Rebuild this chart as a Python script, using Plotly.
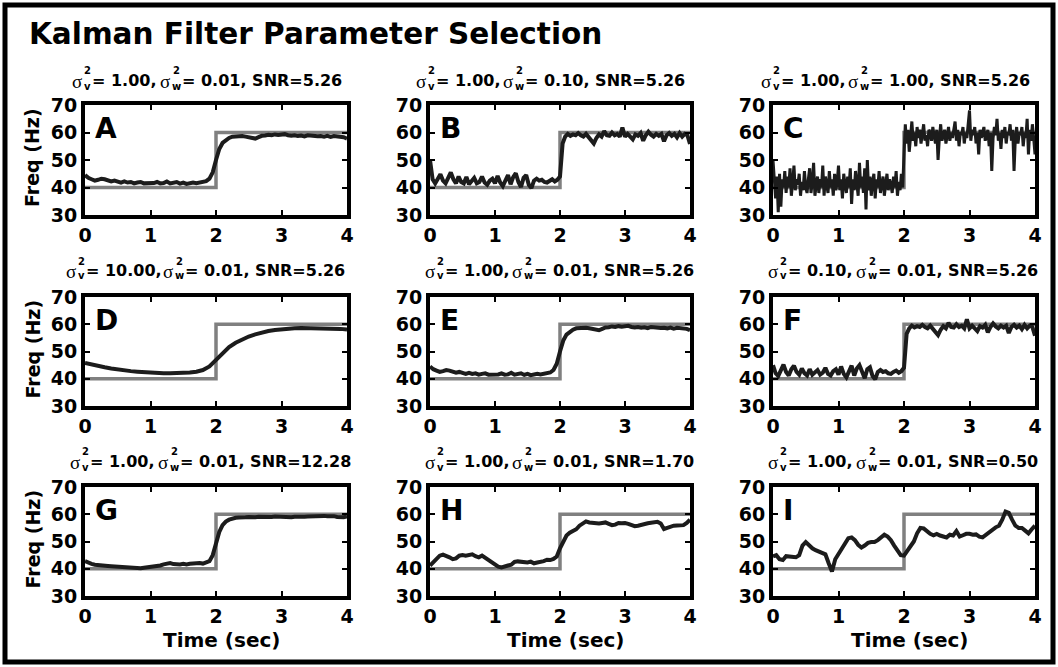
import numpy as np
import plotly.graph_objects as go

W, H = 1058, 667

# ---------------- data ----------------
step_time = [0, 2, 2, 4]
step_freq = [40, 40, 60, 60]

freq_A = [44.5, 43.5, 43.0, 42.5, 42.8, 43.2, 43.0, 42.5, 42.2, 42.5,
          42.0, 41.8, 42.2, 41.8, 42.0, 41.5, 41.8, 42.0, 41.5, 41.5,
          41.8, 41.6, 42.0, 41.5, 41.6, 42.2, 41.5, 41.8, 42.0, 41.4,
          41.8, 41.3, 41.7, 41.8, 41.6, 41.8, 42.0, 42.3, 43.2, 45.5,
          50.0, 54.0, 56.2, 57.3, 58.0, 58.5, 58.6, 58.5, 58.7, 58.5,
          58.3, 57.8, 57.8, 58.3, 58.8, 58.9, 59.2, 59.0, 59.3, 59.1,
          59.2, 59.4, 59.0, 58.8, 59.0, 58.7, 58.9, 58.6, 59.0, 58.8,
          58.9, 58.6, 58.7, 58.5, 58.8, 58.4, 58.7, 58.5, 58.6, 58.3,
          57.8]

freq_B = [50.0, 43.0, 41.5, 43.0, 44.8, 42.5, 41.5, 43.5, 45.5, 43.0,
          41.5, 44.0, 42.0, 41.5, 43.8, 41.2, 42.5, 43.5, 41.5, 42.0,
          44.0, 41.8, 41.0, 42.5, 43.2, 41.5, 44.2, 41.8, 40.5, 43.0,
          44.5, 41.2, 43.8, 45.2, 42.0, 40.2, 43.5, 44.5, 41.0, 39.8,
          42.5, 43.2, 42.5, 42.8, 42.0, 41.8, 42.5, 43.0, 42.2, 42.8,
          44.0, 56.0, 58.5, 59.5, 58.8, 59.3, 59.0, 59.8, 59.0, 58.5,
          59.5, 58.2, 57.5, 56.0, 58.0, 59.3, 58.5, 60.5, 59.0, 58.8,
          60.0, 59.0, 59.5, 58.5, 61.8, 58.5, 59.5, 58.2, 57.5, 59.3,
          58.8, 59.8, 57.0, 59.0, 60.3, 59.2, 58.5, 59.5, 58.8, 59.5,
          56.8, 59.0, 59.8, 58.8, 59.5, 58.2, 59.8, 58.5, 59.5, 59.0,
          55.8]

freq_C = [50, 42, 36, 44, 31, 45, 33, 43, 40, 46,
          38, 44, 40, 47, 37, 42, 48, 39, 43, 41,
          45, 37, 42, 39, 46, 40, 38, 43, 47, 38,
          42, 49, 37, 41, 44, 38, 43, 40, 48, 37,
          44, 41, 38, 46, 40, 43, 37, 45, 39, 42,
          48, 39, 43, 36, 45, 41, 38, 44, 40, 47,
          34, 43, 39, 46, 41, 37, 49, 40, 44, 38,
          47, 32, 50, 39, 44, 37, 42, 45, 36, 43,
          40, 46, 38, 42, 44, 37, 41, 45, 39, 43,
          41, 38, 44, 40, 46, 37, 42, 39, 45, 40,
          52, 63, 56, 61, 53, 59, 64, 57, 60, 55,
          62, 58, 61, 56, 60, 63, 57, 59, 55, 61,
          60, 57, 62, 59, 56, 61, 50, 58, 63, 57,
          59, 61, 56, 60, 62, 57, 60, 58, 61, 64,
          57, 61, 55, 60, 59, 62, 56, 60, 58, 63,
          68, 57, 61, 59, 62, 56, 60, 52, 61, 58,
          60, 62, 57, 59, 61, 55, 60, 46, 58, 62,
          59, 65, 57, 60, 54, 61, 58, 62, 56, 60,
          59, 63, 57, 61, 46, 58, 62, 56, 60, 59,
          62, 55, 60, 58, 65, 52, 61, 57, 63, 58,
          52]

freq_D = [45.8, 45.2, 44.7, 44.2, 43.8, 43.4, 43.1, 42.8, 42.6, 42.4,
          42.2, 42.1, 42.0, 42.0, 42.0, 42.1, 42.3, 42.6, 43.2, 44.5,
          47.0, 49.5, 51.6, 53.2, 54.5, 55.5, 56.3, 57.0, 57.5, 57.9,
          58.2, 58.4, 58.5, 58.6, 58.6, 58.6, 58.6, 58.5, 58.4, 58.3,
          58.1]

freq_E = [44.5, 43.5, 43.0, 42.5, 42.8, 43.2, 43.0, 42.5, 42.2, 42.5,
          42.0, 41.8, 42.2, 41.8, 42.0, 41.5, 41.8, 42.0, 41.5, 41.5,
          41.8, 41.6, 42.0, 41.5, 41.6, 42.2, 41.5, 41.8, 42.0, 41.4,
          41.8, 41.3, 41.7, 41.8, 41.6, 41.8, 42.0, 42.3, 43.2, 45.5,
          50.0, 54.0, 56.2, 57.3, 58.0, 58.5, 58.6, 58.5, 58.7, 58.5,
          58.3, 57.8, 57.8, 58.3, 58.8, 58.9, 59.2, 59.0, 59.3, 59.1,
          59.2, 59.4, 59.0, 58.8, 59.0, 58.7, 58.9, 58.6, 59.0, 58.8,
          58.9, 58.6, 58.7, 58.5, 58.8, 58.4, 58.7, 58.5, 58.6, 58.3,
          57.8]

freq_F = [45.0, 42.0, 41.0, 43.5, 45.2, 42.5, 41.2, 43.5, 44.8, 42.5,
          41.5, 43.8, 42.0, 41.2, 43.5, 41.5, 42.5, 43.2, 41.5, 42.2,
          44.0, 41.8, 41.2, 42.8, 43.5, 41.5, 44.5, 41.8, 40.5, 43.0,
          44.8, 41.2, 43.8, 45.0, 42.0, 40.2, 43.5, 44.2, 41.0, 39.8,
          42.5, 43.2, 42.5, 42.8, 42.0, 41.8, 42.5, 43.0, 42.2, 42.8,
          44.0, 56.5, 58.5, 59.5, 58.8, 59.3, 59.0, 59.8, 59.0, 58.5,
          59.5, 58.2, 57.5, 56.0, 58.0, 59.3, 58.5, 60.5, 59.0, 58.8,
          60.0, 59.0, 59.5, 58.5, 61.8, 58.5, 59.5, 58.2, 57.5, 59.3,
          58.8, 59.8, 57.0, 59.0, 60.3, 59.2, 58.5, 59.5, 58.8, 59.5,
          56.8, 59.0, 59.8, 58.8, 59.5, 58.2, 59.8, 58.5, 59.5, 59.0,
          55.8]

freq_G = [42.8, 42.2, 41.8, 41.5, 41.3, 41.2, 41.0, 41.0, 40.9, 40.8,
          40.9, 40.7, 40.8, 40.6, 40.6, 40.5, 40.4, 40.2, 40.4, 40.5,
          40.6, 40.7, 40.9, 41.2, 41.6, 42.0, 42.1, 41.7, 41.5, 41.6,
          41.8, 41.6, 41.8, 42.0, 41.9, 42.1, 41.9, 42.2, 42.8, 45.0,
          49.5, 53.5, 56.0, 57.3, 58.0, 58.5, 58.7, 58.8, 58.7, 58.9,
          59.0, 58.8, 58.9, 59.1, 59.0, 58.9, 59.1, 59.0, 59.2, 59.1,
          59.0, 59.1, 59.0, 58.9, 59.1, 59.0, 59.2, 59.1, 59.2, 59.3,
          59.2, 59.3, 59.3, 59.4, 59.3, 59.4, 59.3, 59.0, 58.8, 58.9,
          59.2]

freq_H = [41.2, 42.5, 43.8, 44.8, 45.2, 44.8, 44.2, 43.5, 43.8, 44.8,
          45.0, 44.8, 45.2, 45.3, 44.6, 44.2, 44.8, 44.0, 42.8, 42.0,
          41.3, 40.8, 40.5, 41.0, 41.2, 41.5, 42.5, 42.7, 42.5, 42.6,
          42.3, 42.6, 42.0, 42.3, 42.5, 42.8, 43.3, 43.2, 43.6, 44.5,
          47.5, 50.0, 52.2, 53.2, 53.8, 54.5, 55.8, 56.8, 57.4, 57.0,
          56.8, 56.9, 56.6, 56.8, 57.0, 56.5, 56.0, 56.2, 56.8, 56.7,
          56.8, 56.5, 56.2, 55.6, 55.8, 56.2, 56.5, 56.7, 56.9, 57.0,
          57.2, 56.6, 54.6, 55.0, 55.6, 55.8, 55.9, 55.8, 56.0, 56.8,
          58.0]

freq_I = [44.5, 45.0, 43.5, 43.2, 44.6, 44.5, 44.3, 44.2, 45.0, 48.5,
          49.8, 48.5, 47.5, 46.8, 46.2, 45.8, 45.3, 42.0, 39.0, 43.5,
          45.5, 47.0, 49.5, 51.2, 51.5, 50.5, 48.8, 47.8, 48.5, 49.5,
          49.8, 49.8, 50.5, 51.5, 52.5, 51.8, 50.5, 48.5, 46.5, 45.0,
          44.8, 46.5, 48.0, 50.0, 53.0, 55.0, 54.8, 53.8, 52.8, 52.3,
          52.8, 52.2, 51.8, 51.5, 52.5, 52.2, 53.8, 51.8, 52.3, 52.8,
          52.8, 52.5, 52.6, 51.8, 51.5, 52.5, 53.5, 54.5, 55.2, 55.8,
          58.0, 61.0, 60.5, 58.0, 55.8, 55.0, 55.0, 54.0, 53.0, 54.5,
          55.8]

panel_letters = ["A", "B", "C", "D", "E", "F", "G", "H", "I"]
panel_freqs = [freq_A, freq_B, freq_C, freq_D, freq_E, freq_F, freq_G, freq_H, freq_I]
sigma_v2 = ["1.00", "1.00", "1.00", "10.00", "1.00", "0.10", "1.00", "1.00", "1.00"]
sigma_w2 = ["0.01", "0.10", "1.00", "0.01", "0.01", "0.01", "0.01", "0.01", "0.01"]
snr = ["5.26", "5.26", "5.26", "5.26", "5.26", "5.26", "12.28", "1.70", "0.50"]
x_ticks = [0, 1, 2, 3, 4]
y_ticks = [30, 40, 50, 60, 70]

# ---------------- layout helpers (window pixels) ----------------
col_px = [(85, 347), (430, 690), (773, 1035)]
row_px = [(105, 215), (297, 406), (487, 596)]
title_y = [80, 270, 461]
# right edge of each sigma glyph in the panel titles
sig1_px = [83, 427, 772, 77, 436, 779, 81, 436, 779]
sig2_px = [171, 514, 859, 174, 523, 867, 169, 523, 867]

FONT = "DejaVu Sans"
SIGMA_FONT = "Liberation Serif"


def px(x):
    return x / W


def py(y):
    return 1 - y / H


fig = go.Figure()
annotations = []

for i in range(9):
    r, c = divmod(i, 3)
    sfx = "" if i == 0 else str(i + 1)
    xa, ya = "x" + sfx, "y" + sfx
    vals = panel_freqs[i]
    t = np.linspace(0, 4, len(vals))
    fig.add_trace(go.Scatter(x=step_time, y=step_freq, mode="lines",
                             line=dict(color="#808080", width=3.5),
                             xaxis=xa, yaxis=ya, showlegend=False, hoverinfo="skip"))
    fig.add_trace(go.Scatter(x=t, y=vals, mode="lines",
                             line=dict(color="#1c1c1c", width=4 if i != 2 else 3),
                             xaxis=xa, yaxis=ya, showlegend=False))
    x0, x1 = col_px[c]
    y0, y1 = row_px[r]
    common = dict(showline=True, linewidth=4, linecolor="black", mirror="ticks",
                  ticks="inside", ticklen=5, tickwidth=2, tickcolor="black",
                  showgrid=False, zeroline=False, fixedrange=True, automargin=False,
                  tickfont=dict(family=FONT, size=19, color="black", weight="bold"))
    fig.layout["xaxis" + sfx] = dict(domain=[px(x0), px(x1)], range=[0, 4],
                                     tickvals=x_ticks, anchor=ya, **common)
    fig.layout["yaxis" + sfx] = dict(domain=[py(y1), py(y0)], range=[30, 70],
                                     tickvals=y_ticks, anchor=xa, **common)

    # panel letter
    annotations.append(dict(text=panel_letters[i], x=px(x0 + 8), y=py(y0 + 23),
                            xref="paper", yref="paper", xanchor="left", yanchor="middle",
                            showarrow=False,
                            font=dict(family=FONT, size=28, color="black", weight="bold")))

    # panel title pieces
    ty = title_y[r]
    f16 = dict(family=FONT, size=16, color="black", weight="bold")
    fsig = dict(family=SIGMA_FONT, size=19, color="black")
    f10 = dict(family=FONT, size=10, color="black", weight="bold")
    s1, s2 = sig1_px[i], sig2_px[i]
    pieces = [
        ("σ", s1, ty + 1, "right", fsig),
        ("2", s1, ty - 9, "left", f10),
        ("v", s1, ty + 6, "left", f10),
        (f"= {sigma_v2[i]},", s1 + 8, ty, "left", f16),
        ("σ", s2, ty + 1, "right", fsig),
        ("2", s2 + 1, ty - 9, "left", f10),
        ("w", s2, ty + 6, "left", f10),
        (f"= {sigma_w2[i]}, SNR={snr[i]}", s2 + 10, ty, "left", f16),
    ]
    for txt, xx, yy, anc, fnt in pieces:
        annotations.append(dict(text=txt, x=px(xx), y=py(yy), xref="paper", yref="paper",
                                xanchor=anc, yanchor="middle", showarrow=False,
                                borderpad=0, font=fnt))

# axis titles
for r in range(3):
    y0, y1 = row_px[r]
    annotations.append(dict(text="Freq (Hz)", x=px(32), y=py((y0 + y1) / 2 - 2),
                            xref="paper", yref="paper", xanchor="center", yanchor="middle",
                            textangle=-90, showarrow=False,
                            font=dict(family=FONT, size=19, color="black", weight="bold")))
for c in range(3):
    x0, x1 = col_px[c]
    annotations.append(dict(text="Time (sec)", x=px((x0 + x1) / 2 + 5), y=py(640),
                            xref="paper", yref="paper", xanchor="center", yanchor="middle",
                            showarrow=False,
                            font=dict(family=FONT, size=20, color="black", weight="bold")))

# main title
annotations.append(dict(text="Kalman Filter Parameter Selection", x=px(27), y=py(34),
                        xref="paper", yref="paper", xanchor="left", yanchor="middle",
                        showarrow=False,
                        font=dict(family=FONT, size=29.5, color="black", weight="bold")))

fig.update_layout(
    template="none",
    width=W, height=H, autosize=False,
    margin=dict(l=0, r=0, t=0, b=0, pad=0, autoexpand=False),
    paper_bgcolor="white", plot_bgcolor="white",
    annotations=annotations,
    shapes=[dict(type="rect", xref="paper", yref="paper",
                 x0=px(5), x1=px(1053), y0=py(662), y1=py(5),
                 line=dict(color="black", width=5))],
)

# the page body would otherwise add an 8 px margin around the fixed-size figure
fig.write_html("out.html",
               config={"displayModeBar": False},
               post_script="document.body.style.margin='0px';"
                           "document.body.style.overflow='hidden';")
